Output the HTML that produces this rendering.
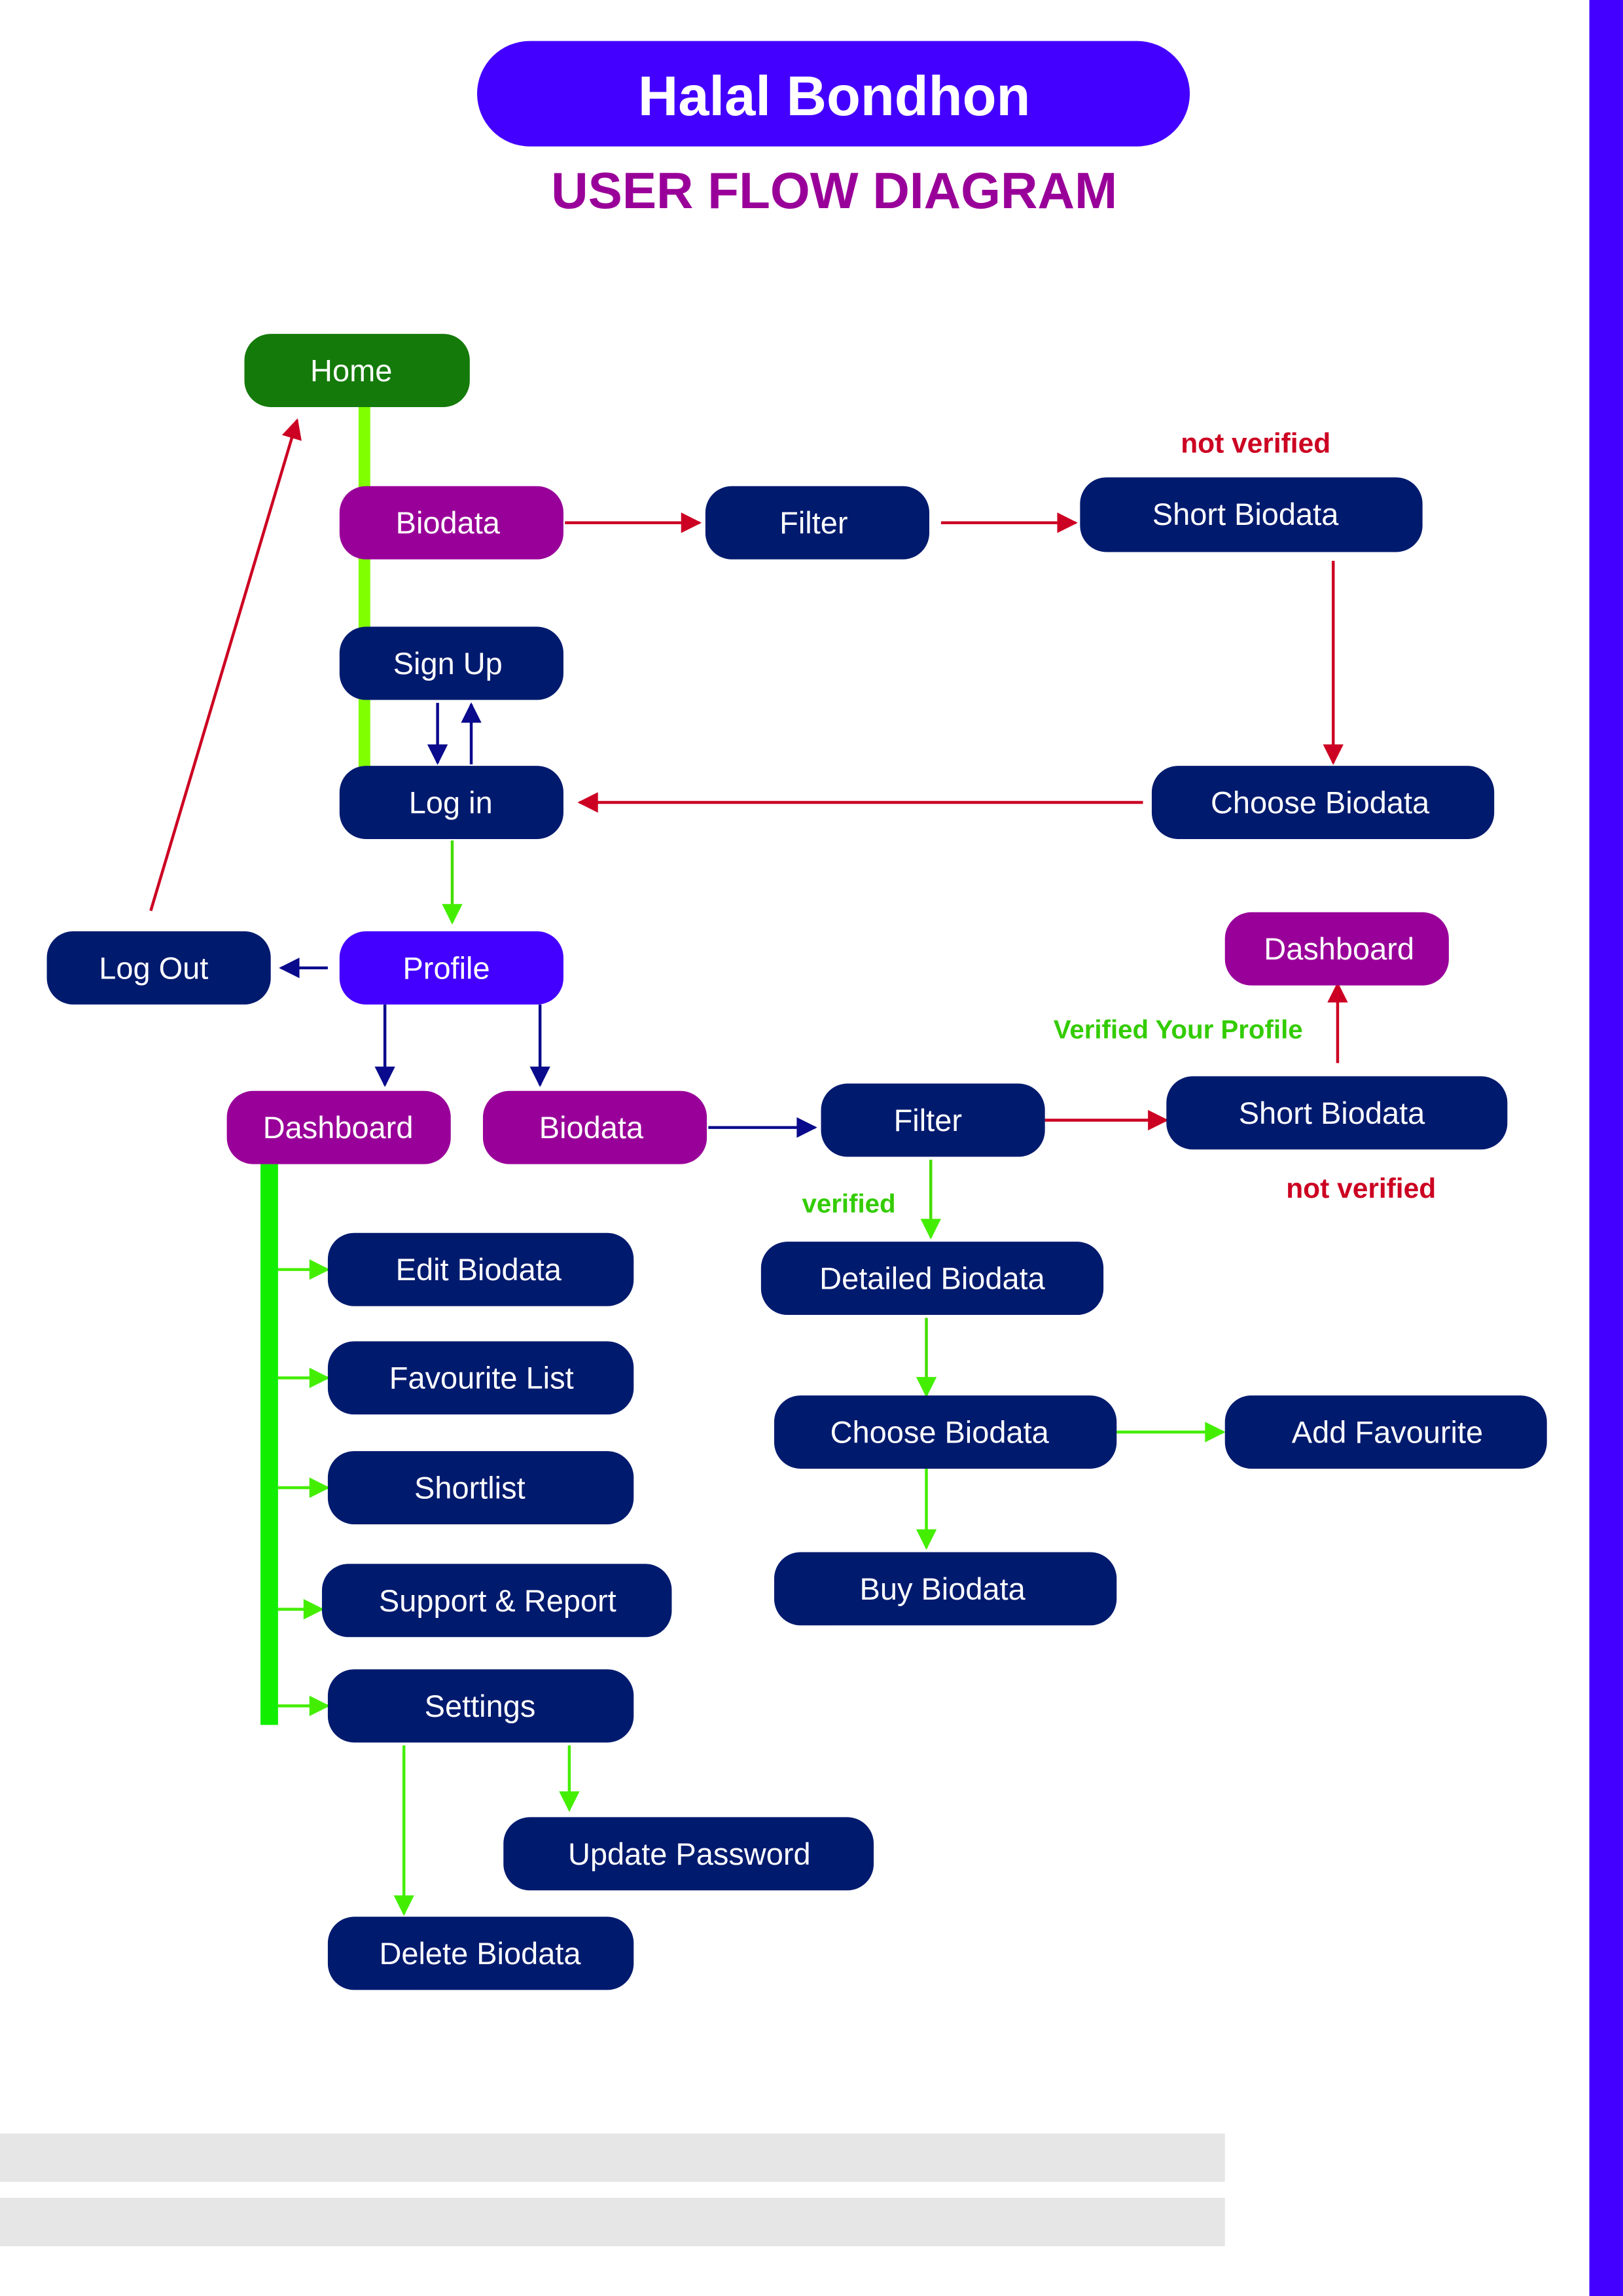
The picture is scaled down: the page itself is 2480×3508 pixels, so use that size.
<!DOCTYPE html>
<html><head><meta charset="utf-8"><style>
html,body{margin:0;padding:0;background:#fff;}
svg{display:block;}
text{font-family:"Liberation Sans",sans-serif;}
.n{font-size:21px;fill:#fff;text-anchor:middle;dominant-baseline:central;}
</style></head><body>
<svg width="2480" height="3508" viewBox="0 0 1109 1568" preserveAspectRatio="none" xmlns="http://www.w3.org/2000/svg">
<defs>
<marker id="ar2" viewBox="0 0 10 10" refX="9" refY="5" markerWidth="15" markerHeight="14" orient="auto" markerUnits="userSpaceOnUse"><path d="M0,0L10,5L0,10z" fill="#cc0022"/></marker>
<marker id="an" viewBox="0 0 10 10" refX="9" refY="5" markerWidth="15" markerHeight="14" orient="auto" markerUnits="userSpaceOnUse"><path d="M0,0L10,5L0,10z" fill="#0a0a8c"/></marker>
<marker id="ag" viewBox="0 0 10 10" refX="9" refY="5" markerWidth="15" markerHeight="14" orient="auto" markerUnits="userSpaceOnUse"><path d="M0,0L10,5L0,10z" fill="#44ee00"/></marker>
</defs>
<rect x="1086" y="0" width="23" height="1568" fill="#4400ff"/>
<rect x="0" y="1457" width="837" height="33" fill="#e6e6e6"/>
<rect x="0" y="1501" width="837" height="33" fill="#e6e6e6"/>
<rect x="326" y="28" width="487" height="72" rx="36" fill="#4400ff"/>
<text x="570" y="66" font-size="38" font-weight="bold" fill="#fff" text-anchor="middle" dominant-baseline="central">Halal Bondhon</text>
<text x="570" y="130" font-size="35" font-weight="bold" fill="#990099" text-anchor="middle" dominant-baseline="central">USER FLOW DIAGRAM</text>
<rect x="245" y="278" width="8" height="247" fill="#80ff00"/>
<rect x="178" y="795" width="12" height="383" fill="#11ee00"/>
<g stroke-width="2" fill="none">
<line x1="386" y1="357" x2="478" y2="357" stroke="#cc0022" marker-end="url(#ar2)"/>
<line x1="643" y1="357" x2="735" y2="357" stroke="#cc0022" marker-end="url(#ar2)"/>
<line x1="911" y1="383" x2="911" y2="521" stroke="#cc0022" marker-end="url(#ar2)"/>
<line x1="781" y1="548" x2="396" y2="548" stroke="#cc0022" marker-end="url(#ar2)"/>
<line x1="103" y1="622" x2="203" y2="287" stroke="#cc0022" marker-end="url(#ar2)"/>
<line x1="714" y1="765" x2="797" y2="765" stroke="#cc0022" marker-end="url(#ar2)"/>
<line x1="914" y1="726" x2="914" y2="672" stroke="#cc0022" marker-end="url(#ar2)"/>
<line x1="299" y1="480" x2="299" y2="521" stroke="#0a0a8c" marker-end="url(#an)"/>
<line x1="322" y1="522" x2="322" y2="481" stroke="#0a0a8c" marker-end="url(#an)"/>
<line x1="224" y1="661" x2="192" y2="661" stroke="#0a0a8c" marker-end="url(#an)"/>
<line x1="263" y1="686" x2="263" y2="741" stroke="#0a0a8c" marker-end="url(#an)"/>
<line x1="369" y1="686" x2="369" y2="741" stroke="#0a0a8c" marker-end="url(#an)"/>
<line x1="484" y1="770" x2="557" y2="770" stroke="#0a0a8c" marker-end="url(#an)"/>
<line x1="309" y1="574" x2="309" y2="630" stroke="#44dd00" marker-end="url(#ag)"/>
<line x1="636" y1="792" x2="636" y2="845" stroke="#44dd00" marker-end="url(#ag)"/>
<line x1="633" y1="900" x2="633" y2="953" stroke="#44dd00" marker-end="url(#ag)"/>
<line x1="633" y1="1003" x2="633" y2="1057" stroke="#44ee00" marker-end="url(#ag)"/>
<line x1="763" y1="978" x2="836" y2="978" stroke="#44ee00" marker-end="url(#ag)"/>
<line x1="190" y1="867" x2="224" y2="867" stroke="#44ee00" marker-end="url(#ag)"/>
<line x1="190" y1="941" x2="224" y2="941" stroke="#44ee00" marker-end="url(#ag)"/>
<line x1="190" y1="1016" x2="224" y2="1016" stroke="#44ee00" marker-end="url(#ag)"/>
<line x1="190" y1="1099" x2="220" y2="1099" stroke="#44ee00" marker-end="url(#ag)"/>
<line x1="190" y1="1165" x2="224" y2="1165" stroke="#44ee00" marker-end="url(#ag)"/>
<line x1="389" y1="1192" x2="389" y2="1236" stroke="#44ee00" marker-end="url(#ag)"/>
<line x1="276" y1="1192" x2="276" y2="1307" stroke="#44ee00" marker-end="url(#ag)"/>
</g>
<g>
<rect x="167" y="228" width="154" height="50" rx="18" fill="#147a0a"/><text class="n" x="240" y="253">Home</text>
<rect x="232" y="332" width="153" height="50" rx="18" fill="#990099"/><text class="n" x="306" y="357">Biodata</text>
<rect x="482" y="332" width="153" height="50" rx="18" fill="#001a6e"/><text class="n" x="556" y="357">Filter</text>
<rect x="738" y="326" width="234" height="51" rx="18" fill="#001a6e"/><text class="n" x="851" y="351">Short Biodata</text>
<text x="858" y="303" font-size="19" font-weight="bold" fill="#cc0022" text-anchor="middle" dominant-baseline="central">not verified</text>
<rect x="232" y="428" width="153" height="50" rx="18" fill="#001a6e"/><text class="n" x="306" y="453">Sign Up</text>
<rect x="232" y="523" width="153" height="50" rx="18" fill="#001a6e"/><text class="n" x="308" y="548">Log in</text>
<rect x="787" y="523" width="234" height="50" rx="18" fill="#001a6e"/><text class="n" x="902" y="548">Choose Biodata</text>
<rect x="32" y="636" width="153" height="50" rx="18" fill="#001a6e"/><text class="n" x="105" y="661">Log Out</text>
<rect x="232" y="636" width="153" height="50" rx="18" fill="#4400ff"/><text class="n" x="305" y="661">Profile</text>
<rect x="837" y="623" width="153" height="50" rx="18" fill="#990099"/><text class="n" x="915" y="648">Dashboard</text>
<text x="805" y="703" font-size="18" font-weight="bold" fill="#33cc00" text-anchor="middle" dominant-baseline="central">Verified Your Profile</text>
<rect x="155" y="745" width="153" height="50" rx="18" fill="#990099"/><text class="n" x="231" y="770">Dashboard</text>
<rect x="330" y="745" width="153" height="50" rx="18" fill="#990099"/><text class="n" x="404" y="770">Biodata</text>
<rect x="561" y="740" width="153" height="50" rx="18" fill="#001a6e"/><text class="n" x="634" y="765">Filter</text>
<rect x="797" y="735" width="233" height="50" rx="18" fill="#001a6e"/><text class="n" x="910" y="760">Short Biodata</text>
<text x="930" y="812" font-size="19" font-weight="bold" fill="#cc0022" text-anchor="middle" dominant-baseline="central">not verified</text>
<text x="580" y="822" font-size="18" font-weight="bold" fill="#33cc00" text-anchor="middle" dominant-baseline="central">verified</text>
<rect x="224" y="842" width="209" height="50" rx="18" fill="#001a6e"/><text class="n" x="327" y="867">Edit Biodata</text>
<rect x="224" y="916" width="209" height="50" rx="18" fill="#001a6e"/><text class="n" x="329" y="941">Favourite List</text>
<rect x="224" y="991" width="209" height="50" rx="18" fill="#001a6e"/><text class="n" x="321" y="1016">Shortlist</text>
<rect x="220" y="1068" width="239" height="50" rx="18" fill="#001a6e"/><text class="n" x="340" y="1093">Support &amp; Report</text>
<rect x="224" y="1140" width="209" height="50" rx="18" fill="#001a6e"/><text class="n" x="328" y="1165">Settings</text>
<rect x="520" y="848" width="234" height="50" rx="18" fill="#001a6e"/><text class="n" x="637" y="873">Detailed Biodata</text>
<rect x="529" y="953" width="234" height="50" rx="18" fill="#001a6e"/><text class="n" x="642" y="978">Choose Biodata</text>
<rect x="837" y="953" width="220" height="50" rx="18" fill="#001a6e"/><text class="n" x="948" y="978">Add Favourite</text>
<rect x="529" y="1060" width="234" height="50" rx="18" fill="#001a6e"/><text class="n" x="644" y="1085">Buy Biodata</text>
<rect x="344" y="1241" width="253" height="50" rx="18" fill="#001a6e"/><text class="n" x="471" y="1266">Update Password</text>
<rect x="224" y="1309" width="209" height="50" rx="18" fill="#001a6e"/><text class="n" x="328" y="1334">Delete Biodata</text>
</g>
</svg>
</body></html>
